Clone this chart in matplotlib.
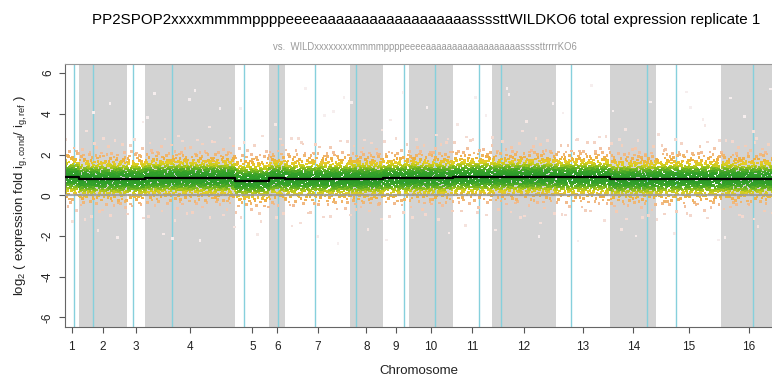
import numpy as np
import matplotlib
matplotlib.use("Agg")
import matplotlib.pyplot as plt
from matplotlib.colors import LinearSegmentedColormap

plt.rcParams['font.family'] = ['Liberation Sans', 'DejaVu Sans']
plt.rcParams['mathtext.fontset'] = 'custom'
plt.rcParams['mathtext.rm'] = 'Liberation Sans'
plt.rcParams['mathtext.it'] = 'Liberation Sans'

# ================================
# data
# ================================
chrom_names = [str(i) for i in range(1, 17)]
# chromosome lengths (bp) and centromere positions (bp)
chrom_len = [230218, 813184, 316620, 1531933, 576874, 270161, 1090940, 562643,
             439888, 745751, 666816, 1078177, 924431, 784333, 1091291, 948066]
centromere = [151500, 238200, 114400, 449700, 151900, 148500, 496900, 105600,
              355700, 436300, 440100, 150800, 268000, 628800, 326600, 556000]
# median log2 fold per chromosome (black line)
chrom_median = [0.91, 0.80, 0.80, 0.86, 0.71, 0.84, 0.81, 0.81,
                0.85, 0.86, 0.91, 0.91, 0.89, 0.79, 0.82, 0.82]
# estimated number of genes per chromosome
gene_count = [110, 420, 170, 780, 290, 130, 540, 290,
              210, 360, 320, 520, 470, 400, 540, 460]
# estimated spread of values around the chromosome median (histogram)
dev_edges = [-3.2, -2.0, -1.3, -0.9, -0.6, -0.35, 0.35, 0.6, 0.9, 1.3, 2.0, 4.6]
dev_share = [0.005, 0.015, 0.04, 0.085, 0.13, 0.43, 0.13, 0.09, 0.055, 0.02, 0.008]

title = "PP2SPOP2xxxxmmmmppppeeeeaaaaaaaaaaaaaaaaaassssttWILDKO6 total expression replicate 1"
subtitle = "vs.  WILDxxxxxxxxmmmmppppeeeeaaaaaaaaaaaaaaaaaassssttrrrrKO6"


def radical_inverse(idx, base):
    # van der Corput / Halton coordinate
    out = np.zeros(len(idx))
    f = 1.0 / base
    idx = idx.copy()
    while np.any(idx > 0):
        out += f * (idx % base)
        idx //= base
        f /= base
    return out


# ================================
# expand the histogram into gene points
# ================================
starts = np.concatenate([[0], np.cumsum(chrom_len)[:-1]])
cdf = np.concatenate([[0], np.cumsum(dev_share)])
cdf = cdf / cdf[-1]

xs, ys, ds = [], [], []
offset = 1
for k in range(16):
    n = gene_count[k]
    i = np.arange(offset, offset + n)
    offset += n
    px = radical_inverse(i, 2)
    u = radical_inverse(i, 3)
    dev = np.interp(u, cdf, dev_edges)
    xs.append(starts[k] + px * chrom_len[k])
    ys.append(chrom_median[k] + dev)
    ds.append(np.abs(dev))
xs = np.concatenate(xs)
ys = np.concatenate(ys)
ds = np.concatenate(ds)

cmap = LinearSegmentedColormap.from_list(
    "fold",
    [(0.0, "#2a9a2a"), (0.08, "#33a02a"), (0.13, "#55ac26"), (0.17, "#8cbe20"),
     (0.2, "#bfca1c"), (0.24, "#e2cf22"), (0.31, "#eeae40"), (0.43, "#f2bc96"),
     (0.6, "#f4d8ce"), (1.0, "#f6eeee")])
order = np.argsort(-ds)

# ================================
# plot
# ================================
fig = plt.figure(figsize=(7.72, 3.77), dpi=100)
ax = fig.add_axes([65 / 772, 50 / 377, 707 / 772, 263 / 377])

for k in range(16):
    if k % 2 == 1:
        ax.axvspan(starts[k], starts[k] + chrom_len[k], color="#d3d3d3", lw=0, zorder=0)
    ax.axvline(starts[k] + centromere[k], color="#86d0dc", lw=1.0, zorder=1)

ax.scatter(xs[order], ys[order], c=np.clip(ds[order] / 3.0, 0, 1), cmap=cmap,
           vmin=0, vmax=1, s=3.6, marker="s", linewidths=0, zorder=2)

ax.axhline(0, color="#9a9a9a", lw=1.6, alpha=0.85, zorder=3)

step_x = np.concatenate([starts, [starts[-1] + chrom_len[-1]]])
step_y = chrom_median + [chrom_median[-1]]
ax.step(step_x, step_y, where="post", color="black", lw=1.6, zorder=4)

ax.set_xlim(0, 11.994e6)
ax.set_ylim(-6.47, 6.45)

mids = starts + np.array(chrom_len) / 2
ax.set_xticks(mids)
ax.set_xticklabels(chrom_names)
ax.set_yticks([-6, -4, -2, 0, 2, 4, 6])
ax.set_yticklabels(["-6", "-4", "-2", "0", "2", "4", "6"], rotation=90, va="center")
ax.tick_params(axis="both", labelsize=8.5, length=4, color="#555555", labelcolor="#222222")
ax.tick_params(axis="x", pad=6)
ax.tick_params(axis="y", pad=4)

for s in ["left", "bottom"]:
    ax.spines[s].set_color("#666666")
ax.spines["top"].set_color("#999999")
ax.spines["right"].set_visible(False)

ax.set_xlabel("Chromosome", fontsize=9.5, color="#222222", labelpad=9)
ax.set_ylabel(r"log$_2$ ( expression fold i$_{\mathrm{g,cond}}$/ i$_{\mathrm{g,ref}}$ )",
              fontsize=9.5, color="#222222", labelpad=9)

# fit title / subtitle to their width in the reference
t1 = fig.text(426 / 772, 1 - 20 / 377, title, ha="center", va="center", fontsize=12)
t2 = fig.text(425 / 772, 1 - 47 / 377, subtitle, ha="center", va="center",
              fontsize=6.5, color="#9a9a9a")
r = fig.canvas.get_renderer()
for t, w in [(t1, 672), (t2, 305)]:
    cur = t.get_window_extent(r).width
    t.set_fontsize(t.get_fontsize() * w / cur)

fig.savefig("out.png", dpi=100)
